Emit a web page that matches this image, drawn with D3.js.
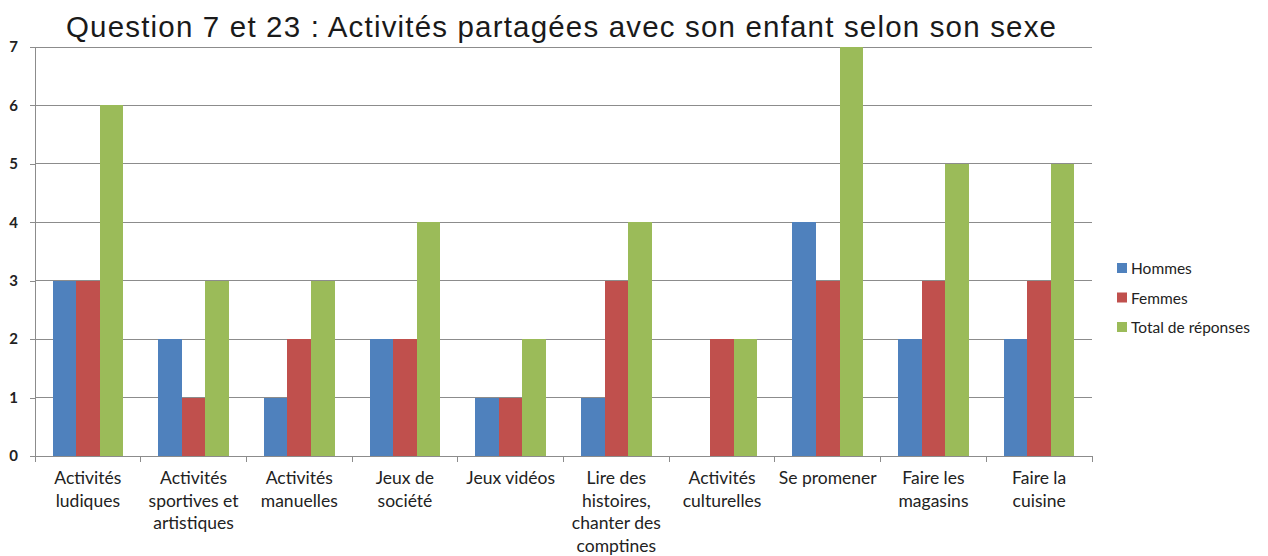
<!DOCTYPE html>
<html>
<head>
<meta charset="utf-8">
<script src="https://cdn.jsdelivr.net/npm/d3@7"></script>
<style>
  html, body { margin: 0; padding: 0; background: #fff; }
  svg { display: block; }
</style>
</head>
<body>
<svg id="chart" width="1268" height="556"></svg>
<script>
// Survey categories (each label split into its displayed lines)
const categories = [
  ["Activités", "ludiques"],
  ["Activités", "sportives et", "artistiques"],
  ["Activités", "manuelles"],
  ["Jeux de", "société"],
  ["Jeux vidéos"],
  ["Lire des", "histoires,", "chanter des", "comptines"],
  ["Activités", "culturelles"],
  ["Se promener"],
  ["Faire les", "magasins"],
  ["Faire la", "cuisine"]
];
const seriesNames = ["Hommes", "Femmes", "Total de réponses"];
const hommes = [3, 2, 1, 2, 1, 1, 0, 4, 2, 2];
const femmes = [3, 1, 2, 2, 1, 3, 2, 3, 3, 3];
const total  = [6, 3, 3, 4, 2, 4, 2, 7, 5, 5];
const yTicks = [0, 1, 2, 3, 4, 5, 6, 7];
const colors = ["#4F81BD", "#C0504D", "#9BBB59"];

const seriesValues = [hommes, femmes, total];
const svg = d3.select("#chart");
const labelFont = "Lato, 'Open Sans', sans-serif";

const plot = { left: 35, right: 1092, top: 47, bottom: 456 };

const x = d3.scaleBand()
  .domain(d3.range(categories.length))
  .range([plot.left, plot.right])
  .paddingInner(0.333)
  .paddingOuter(0.1665);

const xInner = d3.scaleBand()
  .domain(d3.range(seriesNames.length))
  .range([0, x.bandwidth()]);

const y = d3.scaleLinear()
  .domain([0, 7])
  .range([plot.bottom, plot.top]);

// Horizontal gridlines
svg.append("g")
  .selectAll("line")
  .data(yTicks.filter(d => d > 0))
  .join("line")
  .attr("x1", plot.left)
  .attr("x2", plot.right)
  .attr("y1", d => y(d))
  .attr("y2", d => y(d))
  .attr("stroke", "#8c8c8c")
  .attr("stroke-width", 1)
  .attr("shape-rendering", "crispEdges");

// Bars
const groups = svg.append("g")
  .selectAll("g")
  .data(categories.map((c, i) => i))
  .join("g")
  .attr("transform", i => `translate(${x(i)},0)`);

groups.selectAll("rect")
  .data(i => seriesValues.map((vals, s) => ({ s, v: vals[i] })))
  .join("rect")
  .attr("x", d => xInner(d.s))
  .attr("width", xInner.bandwidth())
  .attr("y", d => y(d.v))
  .attr("height", d => y(0) - y(d.v))
  .attr("fill", d => colors[d.s])
  .attr("shape-rendering", "crispEdges");

// Y axis
const yAxis = svg.append("g")
  .attr("transform", `translate(${plot.left},0)`)
  .call(d3.axisLeft(y).tickValues(yTicks).tickSize(5).tickPadding(12).tickFormat(d3.format("d")));
yAxis.select(".domain").attr("stroke", "#8c8c8c").attr("shape-rendering", "crispEdges");
yAxis.selectAll(".tick line").attr("stroke", "#8c8c8c").attr("shape-rendering", "crispEdges");
yAxis.selectAll(".tick text")
  .attr("font-family", labelFont)
  .attr("font-size", 15)
  .attr("font-weight", "bold")
  .attr("fill", "#222");

// X axis baseline and category boundary ticks
const bounds = d3.range(categories.length + 1).map(i =>
  i < categories.length ? x(i) - x.step() * x.paddingInner() / 2 : plot.right);
svg.append("line")
  .attr("x1", plot.left).attr("x2", plot.right)
  .attr("y1", y(0)).attr("y2", y(0))
  .attr("stroke", "#8c8c8c")
  .attr("shape-rendering", "crispEdges");
svg.append("g")
  .selectAll("line")
  .data(bounds)
  .join("line")
  .attr("x1", d => d).attr("x2", d => d)
  .attr("y1", y(0)).attr("y2", y(0) + 6)
  .attr("stroke", "#8c8c8c")
  .attr("shape-rendering", "crispEdges");

// Category labels
const labels = svg.append("g")
  .selectAll("text")
  .data(categories.map((c, i) => ({ c, i })))
  .join("text")
  .attr("text-anchor", "middle")
  .attr("font-family", labelFont)
  .attr("font-size", 17.5)
  .attr("fill", "#222")
  .attr("transform", d => `translate(${x(d.i) + x.bandwidth() / 2},${y(0) + 28})`);
labels.selectAll("tspan")
  .data(d => d.c)
  .join("tspan")
  .attr("x", 0)
  .attr("dy", (d, k) => k === 0 ? 0 : 22.5)
  .text(d => d);

// Title
svg.append("text")
  .attr("x", 561)
  .attr("y", 37)
  .attr("text-anchor", "middle")
  .attr("font-family", "'Liberation Sans', Arial, sans-serif")
  .attr("font-size", 29.5)
  .attr("fill", "#1a1a1a")
  .attr("textLength", 990)
  .attr("lengthAdjust", "spacing")
  .text("Question 7 et 23 : Activités partagées avec son enfant selon son sexe");

// Legend
const legend = svg.append("g")
  .selectAll("g")
  .data(seriesNames.map((n, s) => ({ n, s })))
  .join("g")
  .attr("transform", d => `translate(1117,${268 + d.s * 29.5})`);
legend.append("rect")
  .attr("x", 0).attr("y", -5)
  .attr("width", 10).attr("height", 10)
  .attr("fill", d => colors[d.s]);
legend.append("text")
  .attr("x", 14).attr("y", 6)
  .attr("font-family", labelFont)
  .attr("font-size", 15.5)
  .attr("fill", "#222")
  .text(d => d.n);
</script>
</body>
</html>
